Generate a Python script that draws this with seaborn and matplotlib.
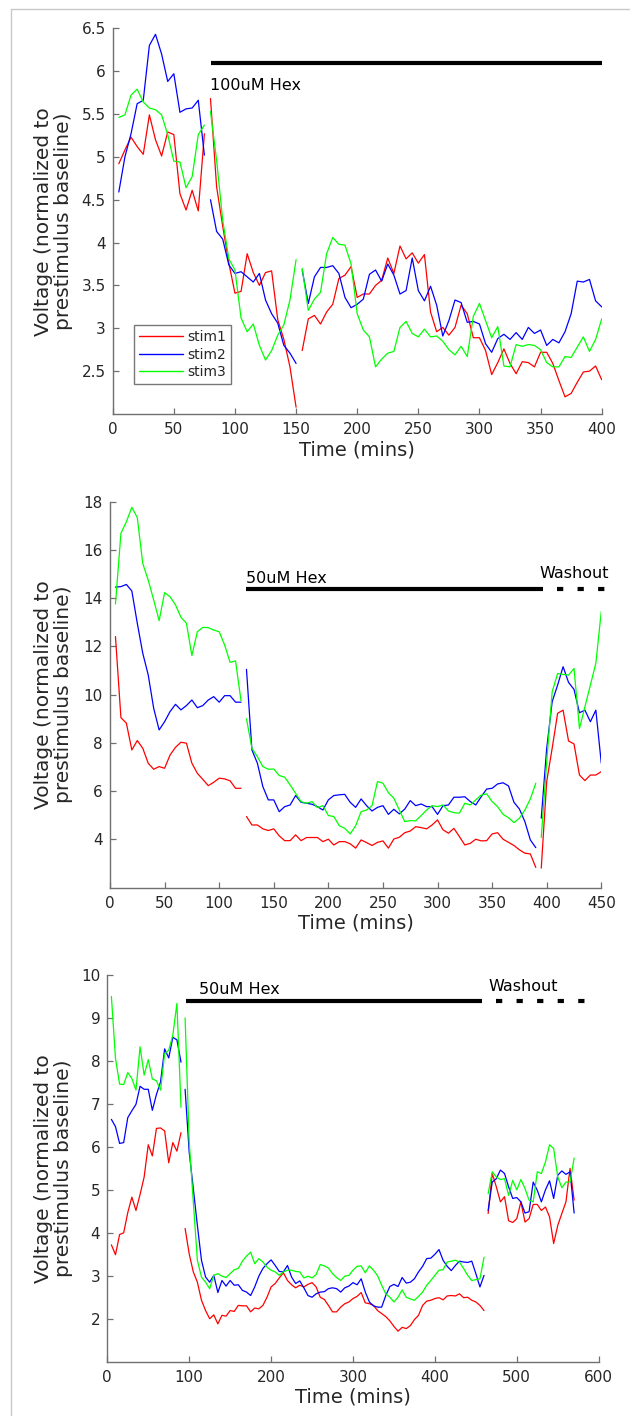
import numpy as np
import pandas as pd
import matplotlib
matplotlib.use('Agg')
import matplotlib.pyplot as plt
from matplotlib.lines import Line2D
from matplotlib.ticker import FuncFormatter
import seaborn as sns

STIMS = ['stim1', 'stim2', 'stim3']
COLORS = ['#ff0000', '#0000ff', '#00ff00']

# ---------------- Panel 1 (100uM Hex) ----------------
P1_SEGMENTS = [(5, 75), (80, 150), (155, 400)]
P1_STIM1 = [
    [4.92, 5.08, 5.23, 5.12, 5.03, 5.49, 5.2, 5.01, 5.29, 5.26, 4.57, 4.38, 4.61, 4.37, 5.27],
    [5.68, 4.65, 4.19, 3.76, 3.41, 3.43, 3.87, 3.65, 3.5, 3.65, 3.67, 3.1, 2.87, 2.55, 2.08],
    [2.74, 3.11, 3.15, 3.05, 3.19, 3.28, 3.58, 3.62, 3.72, 3.36, 3.4, 3.4, 3.5, 3.56, 3.82,
     3.64, 3.96, 3.81, 3.88, 3.76, 3.86, 3.19, 2.96, 3.01, 2.92, 3.01, 3.27, 3.17, 2.89, 2.89,
     2.74, 2.46, 2.6, 2.76, 2.59, 2.47, 2.61, 2.6, 2.55, 2.72, 2.72, 2.59, 2.39, 2.2, 2.24,
     2.37, 2.49, 2.5, 2.56, 2.4],
]
P1_STIM2 = [
    [4.59, 5.0, 5.27, 5.62, 5.66, 6.3, 6.43, 6.2, 5.88, 5.97, 5.52, 5.56, 5.57, 5.66, 5.02],
    [4.5, 4.13, 4.04, 3.74, 3.64, 3.66, 3.6, 3.54, 3.64, 3.33, 3.17, 3.06, 2.8, 2.71, 2.59],
    [3.68, 3.29, 3.6, 3.71, 3.71, 3.73, 3.64, 3.36, 3.24, 3.28, 3.34, 3.63, 3.68, 3.55, 3.75,
     3.62, 3.4, 3.44, 3.82, 3.44, 3.32, 3.49, 3.27, 2.91, 3.09, 3.33, 3.3, 3.07, 3.08, 3.05,
     2.82, 2.72, 2.88, 2.93, 2.87, 2.95, 2.87, 3.01, 2.94, 2.98, 2.8, 2.87, 2.83, 2.96, 3.17,
     3.55, 3.54, 3.57, 3.32, 3.25],
]
P1_STIM3 = [
    [5.46, 5.49, 5.72, 5.79, 5.64, 5.57, 5.55, 5.49, 5.26, 4.95, 4.94, 4.64, 4.77, 5.26, 5.37],
    [5.53, 4.96, 4.26, 3.81, 3.68, 3.12, 2.96, 3.05, 2.8, 2.63, 2.74, 2.92, 3.04, 3.33, 3.8],
    [3.7, 3.21, 3.34, 3.42, 3.87, 4.06, 3.98, 3.97, 3.75, 3.17, 2.98, 2.9, 2.55, 2.64, 2.71,
     2.73, 3.01, 3.08, 2.94, 2.9, 2.99, 2.9, 2.91, 2.85, 2.75, 2.69, 2.79, 2.67, 3.14, 3.29,
     3.09, 2.89, 3.02, 2.56, 2.55, 2.81, 2.79, 2.81, 2.8, 2.75, 2.6, 2.55, 2.55, 2.67, 2.66,
     2.78, 2.9, 2.73, 2.87, 3.11],
]

# ---------------- Panel 2 (50uM Hex + washout) ----------------
P2_SEGMENTS = [(5, 120), (125, 390), (395, 450)]
P2_STIM1 = [
    [12.41, 9.05, 8.82, 7.71, 8.1, 7.78, 7.16, 6.91, 7.02, 6.95, 7.5, 7.82, 8.03, 7.99, 7.16,
     6.74, 6.49, 6.23, 6.37, 6.54, 6.51, 6.43, 6.12, 6.12],
    [4.95, 4.6, 4.6, 4.44, 4.37, 4.44, 4.15, 3.95, 3.95, 4.19, 3.95, 4.08, 4.08, 4.08, 3.91,
     4.01, 3.77, 3.91, 3.91, 3.82, 3.64, 3.98, 3.87, 3.75, 3.88, 3.94, 3.64, 4.02, 4.09, 4.28,
     4.35, 4.53, 4.49, 4.44, 4.6, 4.81, 4.4, 4.26, 4.46, 4.12, 3.77, 3.84, 4.01, 3.94, 3.95,
     4.23, 4.28, 4.01, 3.88, 3.75, 3.57, 3.43, 3.4, 2.84],
    [2.81, 6.4, 7.78, 9.23, 9.36, 8.08, 7.96, 6.67, 6.44, 6.67, 6.67, 6.81],
]
P2_STIM2 = [
    [14.46, 14.48, 14.57, 14.3, 12.96, 11.72, 10.82, 9.44, 8.54, 8.88, 9.3, 9.6, 9.37, 9.55,
     9.78, 9.46, 9.55, 9.78, 9.92, 9.69, 9.96, 9.96, 9.69, 9.69],
    [11.05, 7.71, 7.16, 6.19, 5.64, 5.64, 5.15, 5.36, 5.43, 5.82, 5.54, 5.5, 5.46, 5.36, 5.22,
     5.64, 5.82, 5.85, 5.87, 5.54, 5.33, 5.68, 5.4, 5.18, 5.33, 5.4, 5.04, 5.25, 5.06, 5.26,
     5.61, 5.4, 5.47, 5.36, 5.36, 5.04, 5.4, 5.43, 5.75, 5.75, 5.77, 5.57, 5.43, 5.77, 6.09,
     6.12, 6.3, 6.35, 6.22, 5.54, 5.26, 4.74, 3.98, 3.66],
    [4.88, 7.78, 9.71, 10.4, 11.16, 10.51, 10.22, 9.25, 9.36, 8.88, 9.36, 7.16],
]
P2_STIM3 = [
    [13.76, 16.69, 17.17, 17.77, 17.34, 15.44, 14.75, 13.93, 13.07, 14.23, 14.06, 13.72, 13.21,
     12.96, 11.62, 12.61, 12.79, 12.78, 12.68, 12.61, 12.06, 11.34, 11.4, 9.75],
    [9.0, 7.78, 7.43, 7.02, 6.91, 6.92, 6.65, 6.58, 6.26, 5.91, 5.57, 5.5, 5.57, 5.32, 5.4,
     4.99, 4.95, 4.57, 4.46, 4.23, 4.57, 5.15, 5.22, 5.4, 6.4, 6.33, 5.94, 5.71, 5.22, 4.74,
     4.78, 4.77, 4.99, 5.22, 5.4, 5.36, 5.43, 5.18, 5.11, 5.09, 5.5, 5.43, 5.64, 5.84, 5.89,
     5.57, 5.36, 5.04, 4.9, 4.7, 4.88, 5.22, 5.68, 6.33],
    [4.08, 7.22, 10.12, 10.88, 10.84, 10.81, 11.09, 8.6, 9.5, 10.4, 11.3, 13.46],
]

# ---------------- Panel 3 (50uM Hex + washout) ----------------
P3_SEGMENTS = [(5, 90), (95, 460), (465, 570)]
P3_STIM1 = [
    [3.72, 3.49, 3.96, 4.0, 4.47, 4.83, 4.52, 4.89, 5.3, 6.05, 5.79, 6.43, 6.44, 6.37, 5.63,
     6.1, 5.9, 6.33],
    [4.1, 3.51, 3.09, 2.85, 2.43, 2.19, 2.0, 2.09, 1.88, 2.08, 2.06, 2.19, 2.17, 2.31, 2.3,
     2.3, 2.16, 2.25, 2.23, 2.31, 2.5, 2.74, 2.82, 2.95, 3.07, 2.89, 2.79, 2.72, 2.78, 2.74,
     2.8, 2.84, 2.74, 2.5, 2.45, 2.31, 2.16, 2.16, 2.27, 2.35, 2.39, 2.47, 2.52, 2.61, 2.37,
     2.35, 2.31, 2.19,
     2.12, 2.05, 1.95, 1.82, 1.71, 1.8, 1.77, 1.84, 1.98, 2.08, 2.31, 2.41, 2.43, 2.47, 2.49,
     2.44, 2.53, 2.54, 2.53, 2.58, 2.49, 2.5, 2.43, 2.39, 2.31, 2.19],
    [4.45, 5.38, 5.07, 4.72, 4.84, 4.28, 4.24, 4.33, 4.72, 4.25, 4.33, 4.66, 4.66, 4.52, 4.6,
     4.37, 3.75, 4.17, 4.45, 4.72, 5.5, 4.76],
]
P3_STIM2 = [
    [6.64, 6.47, 6.08, 6.1, 6.68, 6.84, 6.99, 7.41, 7.34, 7.34, 6.85, 7.22, 7.51, 8.28, 8.07,
     8.55, 8.49, 7.97],
    [7.34, 5.88, 5.03, 4.17, 3.36, 2.97, 2.85, 3.01, 2.61, 2.89, 2.76, 2.89, 2.78, 2.79, 2.66,
     2.62, 2.54, 2.74, 2.99, 3.17, 3.28, 3.37, 3.24, 3.1, 3.09, 3.24, 2.97, 2.82, 2.88, 2.72,
     2.54, 2.5, 2.58, 2.62, 2.63, 2.7, 2.72, 2.7, 2.62, 2.72, 2.76, 2.84, 2.79, 2.93, 2.62,
     2.39, 2.3, 2.27,
     2.27, 2.54, 2.75, 2.8, 2.75, 2.96, 2.83, 2.85, 2.93, 3.09, 3.22, 3.4, 3.41, 3.5, 3.61,
     3.36, 3.22, 3.12, 3.24, 3.34, 3.32, 3.31, 3.34, 3.05, 2.74, 3.01],
    [4.52, 5.18, 5.26, 5.46, 5.38, 5.07, 4.8, 4.82, 4.72, 4.46, 4.49, 5.18, 4.99, 4.72, 5.0,
     5.21, 4.8, 5.34, 5.44, 5.36, 5.42, 4.46],
]
P3_STIM3 = [
    [9.5, 8.06, 7.46, 7.45, 7.73, 7.59, 7.32, 8.33, 7.67, 8.03, 7.58, 7.54, 7.32, 8.17, 8.25,
     8.6, 9.34, 6.92],
    [9.0, 6.12, 4.72, 3.36, 2.97, 2.85, 2.7, 3.01, 3.05, 2.99, 2.96, 3.05, 3.14, 3.17, 3.34,
     3.46, 3.55, 3.28, 3.4, 3.32, 3.2, 3.13, 3.09, 3.01, 3.09, 3.13, 3.13, 3.1, 3.09, 2.95,
     2.99, 2.95, 3.03, 3.26, 3.23, 3.18, 3.05, 2.96, 2.89, 2.99, 3.01, 3.13, 3.22, 3.23, 3.07,
     3.23, 3.13, 3.0,
     2.78, 2.58, 2.5, 2.39, 2.5, 2.67, 2.5, 2.46, 2.43, 2.52, 2.62, 2.78, 2.89, 3.01, 3.13,
     3.14, 3.32, 3.34, 3.36, 3.32, 3.17, 3.01, 2.89, 2.91, 2.93, 3.43],
    [4.91, 5.42, 5.3, 5.24, 5.26, 4.87, 5.22, 5.0, 5.24, 5.03, 4.76, 4.72, 5.42, 5.38, 5.65,
     6.05, 5.96, 5.3, 5.05, 5.18, 5.18, 5.74],
]

STEP = 5


def make_df(segments, series_list):
    rows = []
    for stim, series in zip(STIMS, series_list):
        for k, ((t0, t1), vals) in enumerate(zip(segments, series)):
            times = np.arange(t0, t1 + 1, STEP)
            assert len(times) == len(vals), (stim, k, len(times), len(vals))
            for t, v in zip(times, vals):
                rows.append({'time': t, 'voltage': v, 'stim': stim, 'seg': k})
    return pd.DataFrame(rows)


sns.set_style('ticks')
plt.rcParams['font.family'] = ['DejaVu Sans']
plt.rcParams['lines.scale_dashes'] = False

W, H = 630, 1416
fig = plt.figure(figsize=(W / 100, H / 100), dpi=100)
fig.patch.set_facecolor('white')

# axes boxes in pixels: left, right, top, bottom
BOXES = [(112.7, 601.7, 28.3, 414.0),
         (110.0, 601.3, 501.7, 887.7),
         (107.3, 598.7, 975.0, 1361.7)]

PANELS = [
    dict(segs=P1_SEGMENTS, data=[P1_STIM1, P1_STIM2, P1_STIM3], xlim=(0, 400), xticks=np.arange(0, 401, 50),
         ylim=(2, 6.5), yticks=np.arange(2.5, 6.51, 0.5)),
    dict(segs=P2_SEGMENTS, data=[P2_STIM1, P2_STIM2, P2_STIM3], xlim=(0, 450), xticks=np.arange(0, 451, 50),
         ylim=(2, 18), yticks=np.arange(4, 18.1, 2)),
    dict(segs=P3_SEGMENTS, data=[P3_STIM1, P3_STIM2, P3_STIM3], xlim=(0, 600), xticks=np.arange(0, 601, 100),
         ylim=(1, 10), yticks=np.arange(2, 10.1, 1)),
]

SPINE_C = '#707070'
TEXT_C = '#262626'
fmt = FuncFormatter(lambda v, p: '%g' % round(v, 3))
axes = []
for (l, r, t, b), P in zip(BOXES, PANELS):
    ax = fig.add_axes([l / W, 1 - b / H, (r - l) / W, (b - t) / H])
    df = make_df(P['segs'], P['data'])
    sns.lineplot(data=df, x='time', y='voltage', hue='stim', units='seg', estimator=None,
                 hue_order=STIMS, palette=COLORS, lw=0.9, legend=False, sort=False, ax=ax)
    ax.set_xlim(*P['xlim'])
    ax.set_ylim(*P['ylim'])
    ax.set_xticks(P['xticks'])
    ax.set_yticks(P['yticks'])
    ax.xaxis.set_major_formatter(fmt)
    ax.yaxis.set_major_formatter(fmt)
    for s in ['top', 'right']:
        ax.spines[s].set_visible(False)
    for s in ['left', 'bottom']:
        ax.spines[s].set_color(SPINE_C)
        ax.spines[s].set_linewidth(1.0)
    ax.tick_params(direction='in', length=4, width=0.9, color=SPINE_C, labelsize=11,
                   labelcolor=TEXT_C)
    ax.tick_params(axis='x', pad=6)
    ax.tick_params(axis='y', pad=5)
    ax.set_xlabel('Time (mins)', fontsize=14, color=TEXT_C, labelpad=2)
    ax.set_ylabel('Voltage (normalized to\nprestimulus baseline)', fontsize=14.5, color=TEXT_C,
                  linespacing=1.05)
    ax.yaxis.set_label_coords((73 - l) / (r - l), 0.5)
    ax.set_facecolor('white')
    axes.append(ax)

BAR = dict(color='black', lw=3.0, solid_capstyle='butt', dash_capstyle='butt', clip_on=False)
DASH = (0, (4.5, 10.3))
ANN_FS = 11.5

# panel 1 annotation
ax = axes[0]
ax.plot([80, 400], [6.1, 6.1], **BAR)
ax.text(80, 5.78, '100uM Hex', fontsize=ANN_FS, va='baseline', ha='left', color='black')

# panel 2 annotations
ax = axes[1]
ax.plot([125, 396.3], [14.39, 14.39], **BAR)
ax.plot([409.3, 453.5], [14.39, 14.39], ls=DASH, **BAR)
ax.text(125, 14.62, '50uM Hex', fontsize=ANN_FS, va='baseline', ha='left', color='black')
ax.text(393.5, 14.82, 'Washout', fontsize=ANN_FS, va='baseline', ha='left', color='black')

# panel 3 annotations
ax = axes[2]
ax.plot([95.7, 458], [9.39, 9.39], **BAR)
ax.plot([475, 585], [9.39, 9.39], ls=DASH, **BAR)
ax.text(112, 9.55, '50uM Hex', fontsize=ANN_FS, va='baseline', ha='left', color='black')
ax.text(465, 9.63, 'Washout', fontsize=ANN_FS, va='baseline', ha='left', color='black')

# legend in panel 1
handles = [Line2D([0], [0], color=c, lw=1.0) for c in COLORS]
leg = axes[0].legend(handles, STIMS, loc='lower left', bbox_to_anchor=(0.0435, 0.078),
                     frameon=True, fancybox=False, framealpha=1, edgecolor='#777777',
                     fontsize=10, handlelength=3.2, handletextpad=0.3, borderpad=0.35,
                     labelspacing=0.25, borderaxespad=0)
leg.get_frame().set_linewidth(1.0)
for txt in leg.get_texts():
    txt.set_color(TEXT_C)

# light border lines of the original figure crop
fig.add_artist(Line2D([10.5 / W, 10.5 / W], [0, 1 - 9 / H], transform=fig.transFigure,
                      color='#c8c8c8', lw=1.0))
fig.add_artist(Line2D([10.5 / W, 1], [1 - 9 / H, 1 - 9 / H], transform=fig.transFigure,
                      color='#c8c8c8', lw=1.0))

fig.savefig('out.png', dpi=100, facecolor='white')
